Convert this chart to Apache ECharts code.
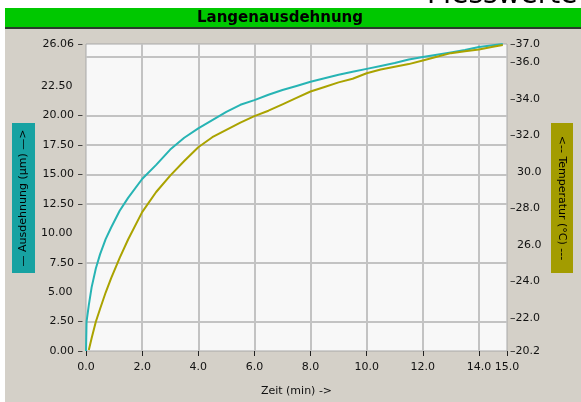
<!DOCTYPE html>
<html><head><meta charset="utf-8">
<script src="https://cdn.jsdelivr.net/npm/echarts@6/dist/echarts.min.js"></script>
<style>html,body{margin:0;padding:0;background:#fff}#c{width:581px;height:402px}</style>
</head><body><div id="c"></div>
<script>
// Data
const zeit = [0, 0.02, 0.1, 0.2, 0.35, 0.5, 0.7, 0.9, 1.2, 1.5, 2.0, 2.5, 3.0, 3.5, 4.0, 4.5, 5.0, 5.5, 6.0, 6.5, 7.0, 7.5, 8.0, 8.5, 9.0, 9.5, 10.0, 10.5, 11.0, 11.5, 12.0, 12.5, 13.0, 13.5, 14.0, 14.5, 14.85];
const ausdehnung = [0, 2.5, 3.9, 5.4, 7.0, 8.2, 9.5, 10.5, 11.9, 13.0, 14.6, 15.8, 17.1, 18.1, 18.9, 19.6, 20.3, 20.9, 21.3, 21.75, 22.15, 22.5, 22.85, 23.15, 23.45, 23.7, 23.95, 24.2, 24.45, 24.75, 24.95, 25.15, 25.35, 25.55, 25.8, 25.95, 26.05];
const temperatur = [null, null, 20.25, 20.9, 21.8, 22.5, 23.4, 24.2, 25.3, 26.3, 27.8, 28.9, 29.8, 30.6, 31.35, 31.9, 32.3, 32.7, 33.05, 33.35, 33.7, 34.05, 34.4, 34.65, 34.9, 35.1, 35.4, 35.6, 35.75, 35.9, 36.1, 36.3, 36.5, 36.6, 36.7, 36.85, 36.95];
const leftTicksWithDash = [0, 2.5, 7.5, 12.5, 15, 17.5, 20, 26.06];
const rightTicks = [20.2, 22, 24, 26, 28, 30, 32, 34, 36, 37];
const rightTicksNoDash = [26, 30];
const titleText = 'Langenausdehnung';
const topText = 'Messwerte';
const leftName = '— Ausdehnung (µm) —>';
const rightName = '<-- Temperatur (°C) ---';
const xName = 'Zeit (min) ->';

const G = '#c3c3c3', T = 'rgba(0,0,0,0)';
const chart = echarts.init(document.getElementById('c'), null, {renderer: 'canvas'});
const near = (a, b) => Math.abs(a - b) < 1e-6;
chart.setOption({
  animation: false,
  backgroundColor: '#ffffff',
  textStyle: {fontFamily: 'DejaVu Sans'},
  graphic: [
    {type: 'text', z: -20, style: {text: topText, x: 427, y: -18, align: 'left', verticalAlign: 'top', font: '28px "DejaVu Sans"', fill: '#000'}},
    {type: 'rect', z: -10, shape: {x: 5, y: 8, width: 576, height: 394}, style: {fill: '#d4d0c8'}},
    {type: 'rect', z: -9, shape: {x: 5, y: 8, width: 576, height: 19}, style: {fill: '#00c800'}},
    {type: 'rect', z: -9, shape: {x: 5, y: 27, width: 576, height: 2}, style: {fill: '#2a3a2a'}},
    {type: 'text', z: 5, style: {text: titleText, x: 280, y: 18, align: 'center', verticalAlign: 'middle', font: 'bold 15px "DejaVu Sans"', fill: '#000'}},
    {type: 'rect', z: 1, shape: {x: 12, y: 123, width: 23, height: 150}, style: {fill: '#17a2a2'}},
    {type: 'text', z: 2, x: 23.5, y: 198, rotation: Math.PI / 2, style: {text: leftName, x: 0, y: 0, align: 'center', verticalAlign: 'middle', font: '11px "DejaVu Sans"', fill: '#000'}},
    {type: 'rect', z: 1, shape: {x: 551, y: 123, width: 22, height: 150}, style: {fill: '#a39c00'}},
    {type: 'text', z: 2, x: 562, y: 198, rotation: -Math.PI / 2, style: {text: rightName, x: 0, y: 0, align: 'center', verticalAlign: 'middle', font: '11px "DejaVu Sans"', fill: '#000'}}
  ],
  grid: {left: 86, right: 74, top: 44, bottom: 50, show: true, backgroundColor: '#f8f8f8', borderColor: '#a8a8a8', borderWidth: 1},
  xAxis: {
    type: 'value', min: 0, max: 15, interval: 2,
    name: xName, nameLocation: 'middle', nameGap: 35,
    nameTextStyle: {fontSize: 11, color: '#111'},
    axisLine: {show: false},
    axisTick: {show: true, length: 5, lineStyle: {color: '#222', width: 1}},
    axisLabel: {fontSize: 11, color: '#111', margin: 11, showMaxLabel: true, formatter: v => v.toFixed(1)},
    splitLine: {show: true, lineStyle: {color: [T, G, G, G, G, G, G, G, T], width: 2}}
  },
  yAxis: [
    {
      type: 'value', min: 0, max: 26.06, interval: 2.5, position: 'left',
      axisLine: {show: false}, axisTick: {show: false},
      axisLabel: {fontSize: 11, color: '#111', margin: 3, showMaxLabel: true, showMinLabel: true,
        formatter: v => {
          if (near(v, 25)) return '';
          const dash = leftTicksWithDash.some(d => near(d, v));
          return v.toFixed(2) + (dash ? ' –' : '   ');
        }},
      splitLine: {show: true, lineStyle: {color: [T, G, T, G, T, G, G, G, G, T, G, T], width: 2}}
    },
    {
      type: 'value', min: 20.2, max: 37, position: 'right',
      axisLine: {show: false}, axisTick: {show: false},
      axisLabel: {fontSize: 11, color: '#111', margin: 3, customValues: rightTicks,
        formatter: v => (rightTicksNoDash.some(d => near(d, v)) ? '  ' : '–') + v.toFixed(1)},
      splitLine: {show: false}
    }
  ],
  series: [
    {type: 'line', yAxisIndex: 0, showSymbol: false, symbol: 'none', lineStyle: {color: '#27b4b4', width: 2}, itemStyle: {color: '#27b4b4'},
      data: zeit.map((t, i) => [t, ausdehnung[i]])},
    {type: 'line', yAxisIndex: 1, showSymbol: false, symbol: 'none', connectNulls: false, lineStyle: {color: '#aaa300', width: 2}, itemStyle: {color: '#aaa300'},
      data: zeit.map((t, i) => [t, temperatur[i]])}
  ]
});
</script></body></html>
